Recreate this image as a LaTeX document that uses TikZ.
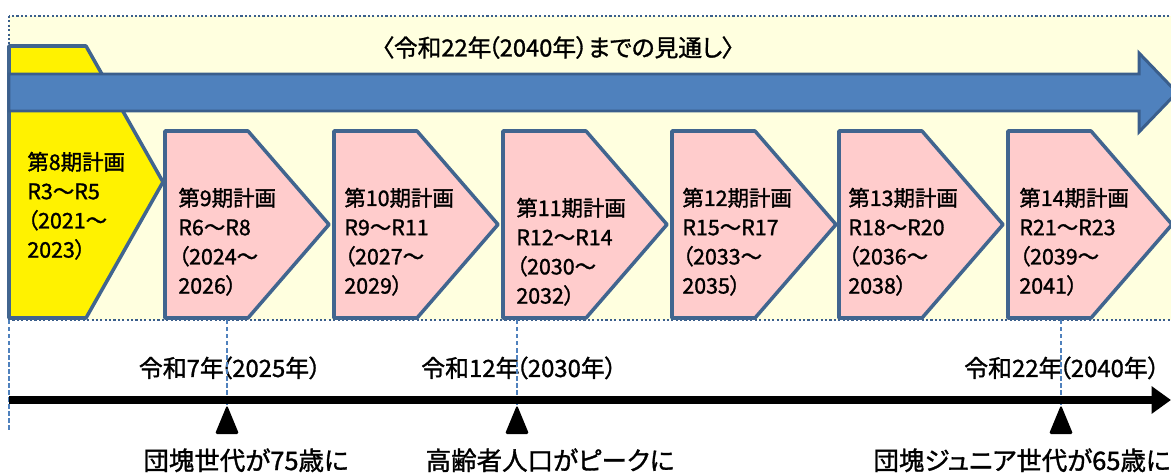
\documentclass[tikz,border=0pt]{standalone}
\usepackage{fontspec}
\setmainfont{Noto Sans CJK JP}[RawFeature={+palt;embolden=1.3}]
\usetikzlibrary{arrows.meta}
\definecolor{bluefill}{HTML}{4F81BD}
\definecolor{blueline}{HTML}{3A5E8C}
\definecolor{boxline}{HTML}{41658F}
\definecolor{pinkfill}{HTML}{FFCCCC}
\definecolor{lightyel}{HTML}{FFFFDF}
\definecolor{dashblue}{HTML}{4F81BD}
\tikzset{
  planbox/.style={draw=boxline, line width=2pt, line join=round, fill=pinkfill},
  firstbox/.style={draw=boxline, line width=2pt, line join=round, fill=yellow},
  plantext/.style={anchor=base west, inner sep=0pt,
    font=\fontsize{12.2pt}{14pt}\selectfont},
  yearlabel/.style={anchor=base, inner sep=0pt, font=\fontsize{13.6pt}{15pt}\selectfont},
  eventlabel/.style={anchor=base, inner sep=0pt, font=\fontsize{14.5pt}{16pt}\selectfont},
  guide/.style={draw=dashblue, line width=0.6pt, dash pattern=on 2.5pt off 1.5pt},
  marker/.style={fill=black, rounded corners=1pt},
}
% name, x, y of first line centre, four lines
\newcommand{\planlines}[7]{%
  \node[plantext] (#1-1) at (#2,{#3+8}) {#4};
  \node[plantext] (#1-2) at (#2,{#3+8+29.2}) {#5};
  \node[plantext] (#1-3) at (#2,{#3+8+58.4}) {#6};
  \node[plantext] (#1-4) at (#2,{#3+8+87.6}) {#7};
}
\newcommand{\tightparen}{\kern-0.15em（}
\begin{document}
\begin{tikzpicture}[x=0.02cm, y=-0.02cm]
\useasboundingbox (0,0) rectangle (1171,473);
\clip (0,0) rectangle (1171,473);
\fill[white] (0,0) rectangle (1171,473);
% outer dotted frame
\path[fill=lightyel, draw=blueline, line width=1.2pt, dash pattern=on 1.2pt off 1.3pt]
  (9,16) rectangle (1190,320);
% title
\node[yearlabel, font=\fontsize{13.5pt}{15pt}\selectfont] (title) at (558,56.5) {〈令和22年\tightparen 2040年）までの見通し〉};
% first (yellow) plan box
\path[firstbox] (9,46) -- (86,46) -- (163,182) -- (86,318) -- (9,318) -- cycle;
% big blue arrow
\path[fill=bluefill, draw=blueline, line width=1.7pt, line join=miter]
  (9,74) -- (1139,74) -- (1139,53) -- (1177,92.5) -- (1139,132) -- (1139,111) -- (9,111) -- cycle;
% pink plan boxes
\foreach \L in {165,334,503,672,839,1008}{
  \path[planbox] (\L,131) -- ({\L+83},131) -- ({\L+164},224.5) -- ({\L+83},318) -- (\L,318) -- cycle;
}
% texts in boxes
\planlines{b8}{27}{162}{第8期計画}{R3～R5}{（2021～}{2023）}
\planlines{b9}{178}{198}{第9期計画}{R6～R8}{（2024～}{2026）}
\planlines{b10}{344}{198}{第10期計画}{R9～R11}{（2027～}{2029）}
\planlines{b11}{516}{208}{第11期計画}{R12～R14}{（2030～}{2032）}
\planlines{b12}{682}{198}{第12期計画}{R15～R17}{（2033～}{2035）}
\planlines{b13}{848}{198}{第13期計画}{R18～R20}{（2036～}{2038）}
\planlines{b14}{1019}{198}{第14期計画}{R21～R23}{（2039～}{2041）}
% guide coordinates
\coordinate (g0) at (9,320);
\coordinate (g0b) at (9,432);
\coordinate (g7) at (227,320);
\coordinate (g12) at (517,320);
\coordinate (g22) at (1061,320);
\coordinate (t7) at (227,405);
\coordinate (t12) at (517,405);
\coordinate (t22) at (1061,405);
% year labels
\node[yearlabel] (y7) at (230,377) {令和7年\tightparen 2025年）};
\node[yearlabel] (y12) at (519,377) {令和12年\tightparen 2030年）};
\node[yearlabel] (y22) at (1062,377) {令和22年\tightparen 2040年）};
% dashed guides
\draw[guide] (g0) -- (g0b);
\draw[guide] (g7) -- (t7);
\draw[guide] (g12) -- (t12);
\draw[guide] (g22) -- (t22);
% time axis
\coordinate (axs) at (9,400);
\coordinate (axe) at (1171,400);
\draw[line width=4.4pt, -{Triangle[length=11pt,width=15pt]}] (axs) -- (axe);
% markers
\foreach \t in {t7,t12,t22}{
  \path[marker] (\t) -- ++(12,29) -- ++(-24,0) -- cycle;
}
% event labels
\node[eventlabel] (e7) at (246,470) {団塊世代が75歳に};
\node[eventlabel] (e12) at (550,470) {高齢者人口がピークに};
\node[eventlabel] (e22) at (1022,470) {団塊ジュニア世代が65歳に};
\end{tikzpicture}
\end{document}
